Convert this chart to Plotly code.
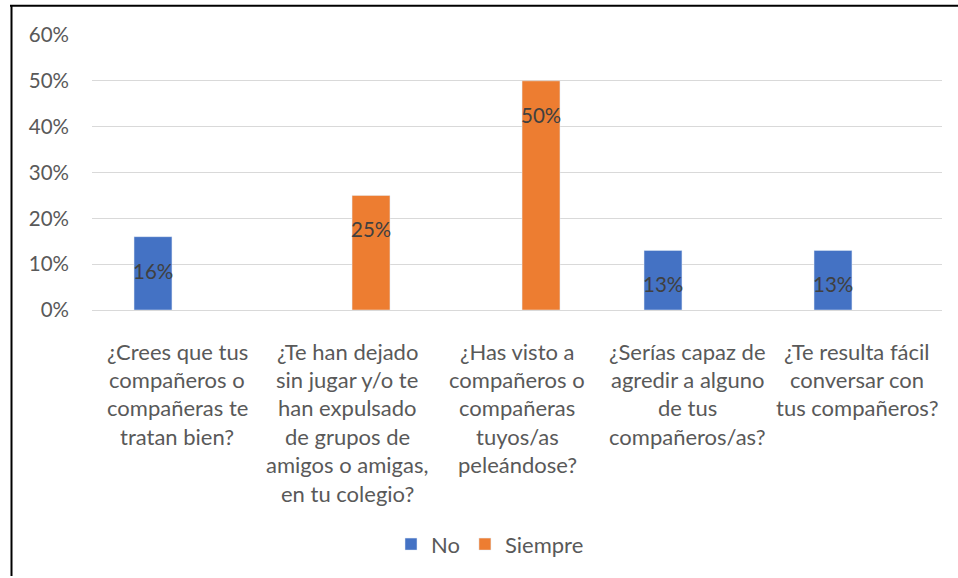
import plotly.graph_objects as go

categories = [
    "¿Crees que tus compañeros o compañeras te tratan bien?",
    "¿Te han dejado sin jugar y/o te han expulsado de grupos de amigos o amigas, en tu colegio?",
    "¿Has visto a compañeros o compañeras tuyos/as peleándose?",
    "¿Serías capaz de agredir a alguno de tus compañeros/as?",
    "¿Te resulta fácil conversar con tus compañeros?",
]
category_lines = [
    ["¿Crees que tus", "compañeros o", "compañeras te", "tratan bien?"],
    ["¿Te han dejado", "sin jugar y/o te", "han expulsado", "de grupos de", "amigos o amigas,", "en tu colegio?"],
    ["¿Has visto a", "compañeros o", "compañeras", "tuyos/as", "peleándose?"],
    ["¿Serías capaz de", "agredir a alguno", "de tus", "compañeros/as?"],
    ["¿Te resulta fácil", "conversar con", "tus compañeros?"],
]
no_values = [0.16, None, None, 0.13, 0.13]
siempre_values = [None, 0.25, 0.50, None, None]
y_ticks = [0, 0.1, 0.2, 0.3, 0.4, 0.5, 0.6]
y_ticklabels = ["0%", "10%", "20%", "30%", "40%", "50%", "60%"]

FONT = "Lato"
TXT = 22
NUM = 20.5
W, H = 958, 578
ML, MR, MT, MB = 92, 16, 35, 266
PW, PH = W - ML - MR, H - MT - MB

fig = go.Figure()
fig.add_trace(go.Bar(name="No", x=categories, y=no_values, marker_color="#4472C4"))
fig.add_trace(go.Bar(name="Siempre", x=categories, y=siempre_values, marker_color="#ED7D31"))

annotations = []
for vals, shift in ((no_values, -24), (siempre_values, 24)):
    for c, v in zip(categories, vals):
        if v is not None:
            annotations.append(dict(x=c, y=v, xref="x", yref="y", text=f"{round(v*100)}%",
                                    showarrow=False, xshift=shift, yshift=-34,
                                    font=dict(family=FONT, size=NUM, color="#404040")))
for c, lines in zip(categories, category_lines):
    for j, line in enumerate(lines):
        annotations.append(dict(x=c, y=0, xref="x", yref="paper", text=line,
                                showarrow=False, yanchor="middle", yshift=-(41 + 28.4 * j),
                                font=dict(family=FONT, size=TXT, color="#595959")))

def px(xp):
    return (xp - ML) / PW

def py(yp):
    return (H - MB - yp) / PH

shapes = [
    dict(type="line", xref="paper", yref="paper", x0=px(10), x1=px(960), y0=py(5.5), y1=py(5.5),
         line=dict(color="black", width=2)),
    dict(type="line", xref="paper", yref="paper", x0=px(11.5), x1=px(11.5), y0=py(5), y1=py(580),
         line=dict(color="black", width=2)),
]

fig.update_layout(
    width=W, height=H,
    margin=dict(l=ML, r=MR, t=MT, b=MB),
    paper_bgcolor="white", plot_bgcolor="white",
    barmode="group", bargap=0.435, bargroupgap=0.21,
    font=dict(family=FONT, size=TXT, color="#595959"),
    showlegend=True,
    legend=dict(orientation="h", x=px(490), xanchor="center", y=py(548), yanchor="middle",
                font=dict(family=FONT, size=TXT, color="#595959"), itemwidth=30),
    annotations=annotations,
    shapes=shapes,
)
fig.update_xaxes(showticklabels=False, showgrid=False, showline=False, zeroline=False)
fig.update_yaxes(range=[0, 0.6], tickvals=y_ticks, ticktext=y_ticklabels,
                 showgrid=True, gridcolor="#D9D9D9", gridwidth=1,
                 zeroline=True, zerolinecolor="#D9D9D9", zerolinewidth=1,
                 showline=False, ticks="", ticklabelstandoff=22,
                 tickfont=dict(family=FONT, size=NUM, color="#595959"))

fig.write_html("out.html", config={"displayModeBar": False},
               post_script="document.body.style.margin='0';document.body.style.overflow='hidden';")
